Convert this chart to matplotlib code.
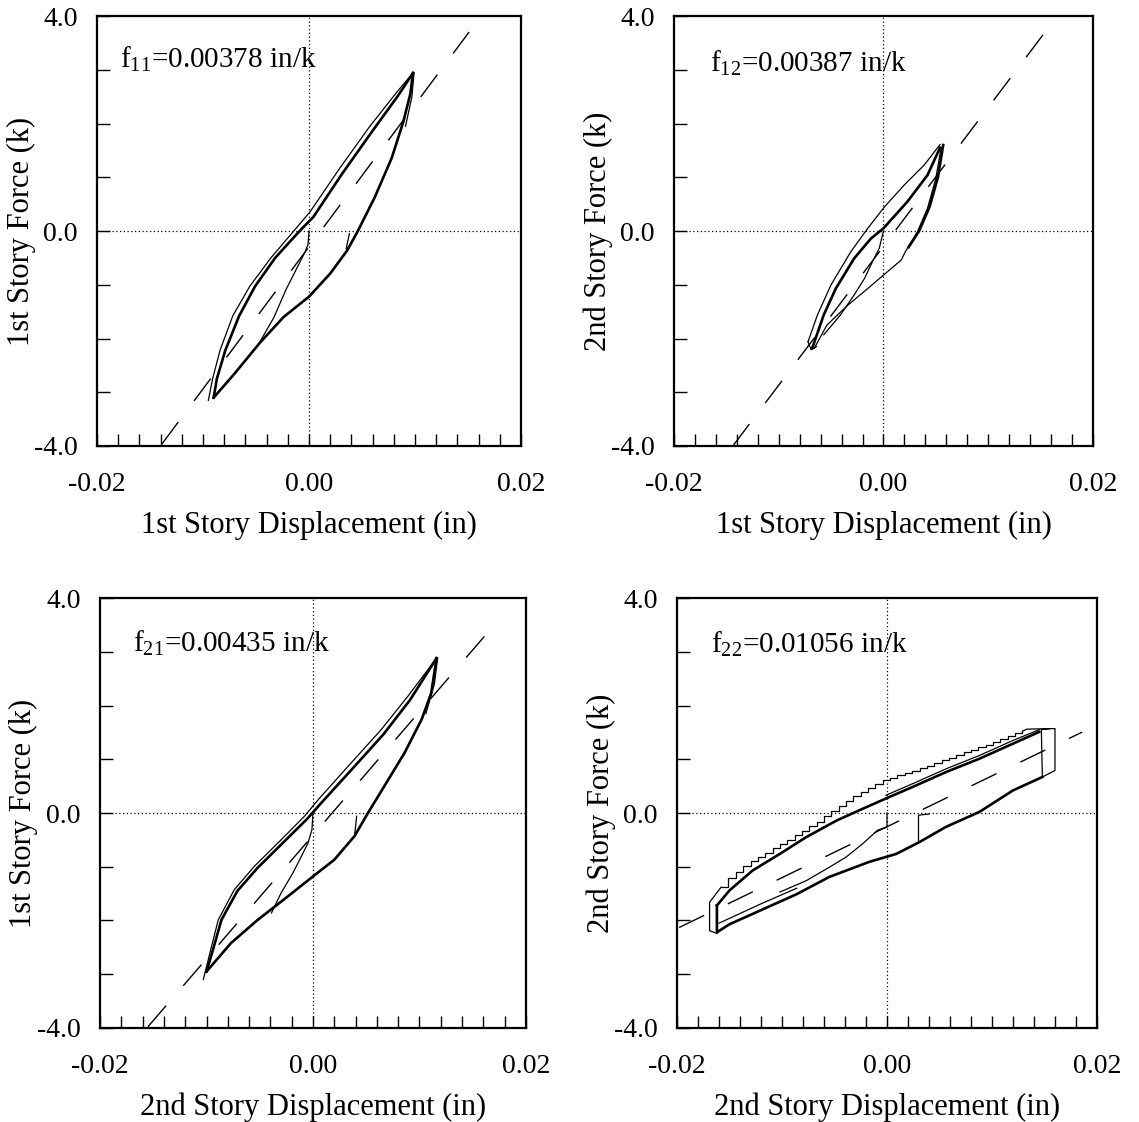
import numpy as np
import matplotlib
matplotlib.use("Agg")
from matplotlib import pyplot as plt
from matplotlib.ticker import MultipleLocator

plt.rcParams["font.family"] = ["Liberation Serif", "DejaVu Serif"]
plt.rcParams["mathtext.fontset"] = "custom"
plt.rcParams["mathtext.rm"] = "Liberation Serif"
plt.rcParams["mathtext.it"] = "Liberation Serif:italic"

# flexibility coefficients (in/k) and offset of the dashed secant line (in)
flex = [0.00378, 0.00387, 0.00435, 0.01056]
flex_names = ["11", "12", "21", "22"]
secant_x0 = [0.0011, 0.0011, 0.0018, 0.0027]
secant_xends = [[-0.0139, 0.0151], [-0.0144, 0.0154], [-0.0155, 0.0175], [-0.0198, 0.0186]]

xlabels = ["1st Story Displacement (in)", "1st Story Displacement (in)",
           "2nd Story Displacement (in)", "2nd Story Displacement (in)"]
ylabels = ["1st Story Force (k)", "2nd Story Force (k)",
           "1st Story Force (k)", "2nd Story Force (k)"]
xtick_vals = [-0.02, 0.0, 0.02]
xtick_text = ["-0.02", "0.00", "0.02"]
ytick_vals = [-4.0, 0.0, 4.0]
ytick_text = ["-4.0", "0.0", "4.0"]

# ---- panel f11 ----
p11_upA_x = [-0.0095, -0.0091, -0.0084, -0.0072, -0.0056, -0.0036, -0.0011, 0.0001, 0.0029, 0.0057, 0.0083, 0.0098]
p11_upA_y = [-3.15, -2.75, -2.22, -1.58, -1.03, -0.50, 0.08, 0.36, 1.17, 1.94, 2.59, 2.94]
p11_upB_x = [-0.0090, -0.0087, -0.0079, -0.0066, -0.0051, -0.0032, -0.0008, 0.0004, 0.0031, 0.0059, 0.0084, 0.0098]
p11_upB_y = [-3.10, -2.75, -2.22, -1.58, -1.03, -0.50, 0.02, 0.26, 1.06, 1.84, 2.52, 2.94]
p11_low_x = [0.0098, 0.00955, 0.0089, 0.0078, 0.0062, 0.0046, 0.0036, 0.0020, 0.0, -0.0024, -0.0046, -0.0071, -0.0090]
p11_low_y = [2.94, 2.55, 2.04, 1.36, 0.63, 0.0, -0.36, -0.79, -1.22, -1.60, -2.07, -2.67, -3.10]
p11_low2_x = [0.0099, 0.0097, 0.0091]
p11_low2_y = [2.94, 2.50, 1.95]
p11_init_x = [0.0, -0.0001, -0.0004, -0.0011, -0.0022, -0.0033, -0.0046]
p11_init_y = [0.0, -0.25, -0.40, -0.67, -1.10, -1.60, -2.05]
p11_hook_x = [0.0038, 0.0035]
p11_hook_y = [-0.05, -0.33]

# ---- panel f12 ----
p12_upA_x = [-0.0072, -0.0063, -0.0050, -0.0031, -0.0015, 0.0001, 0.0020, 0.0039, 0.0054]
p12_upA_y = [-2.06, -1.56, -1.00, -0.38, 0.05, 0.45, 0.86, 1.23, 1.61]
p12_upB_x = [-0.0068, -0.0057, -0.00455, -0.0028, -0.0012, 0.0, 0.0023, 0.0042, 0.0054]
p12_upB_y = [-2.18, -1.56, -1.07, -0.51, -0.14, 0.05, 0.55, 1.04, 1.55]
p12_low_x = [0.0055, 0.0050, 0.0042, 0.00325, 0.0021, 0.0017, 0.0, -0.0015, -0.0034, -0.0054, -0.0066]
p12_low_y = [1.55, 0.98, 0.42, -0.01, -0.38, -0.54, -0.82, -1.07, -1.38, -1.75, -2.18]
p12_low2_x = [0.0057, 0.0052, 0.0044, 0.0034, 0.0024]
p12_low2_y = [1.60, 1.00, 0.45, 0.0, -0.30]
p12_init_x = [0.0, -0.0004, -0.00105, -0.0018, -0.0028, -0.0041, -0.0057]
p12_init_y = [0.0, -0.32, -0.57, -0.88, -1.19, -1.56, -1.93]
p12_hook_x = [-0.0072, -0.0069, -0.0064]
p12_hook_y = [-2.06, -2.21, -2.15]

# ---- panel f21 ----
p21_upA_x = [-0.0103, -0.0098, -0.0089, -0.0074, -0.0055, -0.0030, -0.0008, 0.0005, 0.0033, 0.0064, 0.0089, 0.0116]
p21_upA_y = [-3.10, -2.70, -1.99, -1.43, -0.99, -0.50, -0.06, 0.25, 0.87, 1.55, 2.17, 2.88]
p21_upB_x = [-0.0100, -0.0094, -0.0086, -0.0071, -0.0052, -0.0028, -0.0006, 0.0007, 0.0035, 0.0066, 0.0091, 0.0116]
p21_upB_y = [-2.95, -2.55, -1.99, -1.45, -1.02, -0.55, -0.12, 0.17, 0.78, 1.46, 2.10, 2.88]
p21_low_x = [0.0116, 0.0111, 0.0102, 0.0086, 0.0067, 0.00516, 0.0039, 0.0020, 0.0, -0.00235, -0.0052, -0.0077, -0.0100]
p21_low_y = [2.88, 2.23, 1.74, 1.12, 0.50, 0.0, -0.43, -0.87, -1.18, -1.55, -1.99, -2.42, -2.95]
p21_low2_x = [0.0117, 0.0114, 0.0106]
p21_low2_y = [2.88, 2.40, 1.85]
p21_init_x = [0.0, -0.0001, -0.00047, -0.0011, -0.0019, -0.0030, -0.0039]
p21_init_y = [0.0, -0.31, -0.56, -0.81, -1.12, -1.49, -1.86]
p21_hook_x = [0.0041, 0.0039]
p21_hook_y = [-0.06, -0.43]

# ---- panel f22 ----
p22_step_x = [-0.0158, -0.0151, -0.0144, -0.0137, -0.0130, -0.0123, -0.0116, -0.0109, -0.0102, -0.0095,
              -0.0088, -0.0081, -0.0074, -0.0067, -0.0060, -0.0053, -0.0046, -0.0039, -0.0032, -0.0025,
              -0.0018, -0.0011, -0.0004, 0.0003, 0.0010, 0.0017, 0.0024, 0.0031, 0.0038, 0.0045,
              0.0052, 0.0059, 0.0066, 0.0073, 0.0080, 0.0087, 0.0094, 0.0101, 0.0108, 0.0115,
              0.0122, 0.0129]
p22_step_y = [-1.38, -1.21, -1.09, -0.99, -0.90, -0.82, -0.74, -0.66, -0.58, -0.50,
              -0.41, -0.33, -0.25, -0.16, -0.06, 0.04, 0.13, 0.23, 0.32, 0.40,
              0.47, 0.54, 0.61, 0.66, 0.70, 0.74, 0.78, 0.83, 0.88, 0.93,
              0.98, 1.03, 1.08, 1.13, 1.18, 1.22, 1.27, 1.32, 1.38, 1.43,
              1.48, 1.52]
p22_lend_x = [-0.0162, -0.0169, -0.0169, -0.0158]
p22_lend_y = [-2.24, -2.19, -1.66, -1.38]
p22_rend_x = [0.0129, 0.0133, 0.0155, 0.0160, 0.0160, 0.0148, 0.0147, 0.0155]
p22_rend_y = [1.52, 1.56, 1.57, 1.57, 0.79, 0.67, 1.55, 1.57]
p22_up_x = [-0.0162, -0.0150, -0.0128, -0.0102, -0.0077, -0.0048, -0.0023, -0.0001, 0.0025, 0.0056, 0.0088, 0.0120, 0.0145]
p22_up_y = [-1.72, -1.44, -1.07, -0.76, -0.45, -0.14, 0.08, 0.27, 0.49, 0.76, 1.01, 1.29, 1.51]
p22_up2_x = [-0.0001, 0.0025, 0.0056, 0.0088, 0.0120, 0.0145]
p22_up2_y = [0.33, 0.55, 0.82, 1.07, 1.35, 1.55]
p22_low_x = [0.0148, 0.0120, 0.0088, 0.0056, 0.0031, 0.0009, -0.0017, -0.0055, -0.0086, -0.0118, -0.0150, -0.0162, -0.0162]
p22_low_y = [0.67, 0.42, 0.02, -0.26, -0.54, -0.76, -0.91, -1.19, -1.51, -1.79, -2.07, -2.22, -1.72]
p22_low2_x = [-0.0160, -0.0120, -0.0086]
p22_low2_y = [-2.05, -1.69, -1.40]
p22_init_x = [0.0, 0.0, -0.0009, -0.0023, -0.0039, -0.0055, -0.0077, -0.0102]
p22_init_y = [0.0, -0.26, -0.32, -0.57, -0.82, -1.01, -1.26, -1.47]
p22_jump_x = [0.0030, 0.0030, 0.0040]
p22_jump_y = [-0.54, -0.04, -0.02]

panels = [
    {"thick": [(p11_low_x, p11_low_y), (p11_upB_x, p11_upB_y)],
     "thin": [(p11_upA_x, p11_upA_y), (p11_low2_x, p11_low2_y), (p11_init_x, p11_init_y), (p11_hook_x, p11_hook_y)],
     "steps": []},
    {"thick": [(p12_upB_x, p12_upB_y), (p12_low2_x, p12_low2_y)],
     "thin": [(p12_upA_x, p12_upA_y), (p12_low_x, p12_low_y), (p12_init_x, p12_init_y), (p12_hook_x, p12_hook_y)],
     "steps": []},
    {"thick": [(p21_low_x, p21_low_y), (p21_upB_x, p21_upB_y)],
     "thin": [(p21_upA_x, p21_upA_y), (p21_low2_x, p21_low2_y), (p21_init_x, p21_init_y), (p21_hook_x, p21_hook_y)],
     "steps": []},
    {"thick": [(p22_low_x, p22_low_y), (p22_up_x, p22_up_y)],
     "thin": [(p22_up2_x, p22_up2_y), (p22_low2_x, p22_low2_y), (p22_init_x, p22_init_y), (p22_jump_x, p22_jump_y),
              (p22_lend_x, p22_lend_y), (p22_rend_x, p22_rend_y)],
     "steps": [(p22_step_x, p22_step_y)]},
]

rects = [[0.0852, 0.6025, 0.3723, 0.3832],
         [0.5917, 0.6025, 0.3679, 0.3832],
         [0.0878, 0.0838, 0.3740, 0.3832],
         [0.5944, 0.0838, 0.3687, 0.3832]]
text_pos = [(0.055, 0.90), (0.086, 0.89), (0.077, 0.894), (0.082, 0.892)]

fig = plt.figure(figsize=(11.39, 11.22), dpi=100)
fs_tick = 20
fs_label = 22
fs_note = 21

for i, rect in enumerate(rects):
    ax = fig.add_axes(rect)
    ax.set_xlim(-0.02, 0.02)
    ax.set_ylim(-4.0, 4.0)

    # zero lines
    ax.axhline(0, color="black", lw=0.9, ls=(0, (1, 2)))
    ax.axvline(0, color="black", lw=0.9, ls=(0, (1, 2)))

    # secant line with slope 1/f
    xs = np.array(secant_xends[i])
    ax.plot(xs, (xs - secant_x0[i]) / flex[i], color="black", lw=1.0, ls=(0, (20, 19)))

    p = panels[i]
    for x, y in p["thin"]:
        ax.plot(x, y, color="black", lw=0.9)
    for x, y in p["thick"]:
        ax.plot(x, y, color="black", lw=1.9)
    for x, y in p["steps"]:
        ax.plot(x, y, color="black", lw=0.9, drawstyle="steps-post")

    ax.text(text_pos[i][0], text_pos[i][1],
            r"f$_{%s}$=%.5f in/k" % (flex_names[i], flex[i]),
            transform=ax.transAxes, fontsize=fs_note, va="center", ha="left")

    for s in ax.spines.values():
        s.set_linewidth(1.6)
    ax.set_xticks(xtick_vals)
    ax.set_xticklabels(xtick_text)
    ax.set_yticks(ytick_vals)
    ax.set_yticklabels(ytick_text)
    ax.xaxis.set_minor_locator(MultipleLocator(0.002))
    ax.yaxis.set_minor_locator(MultipleLocator(1.0))
    ax.tick_params(which="both", direction="in", length=9, width=1.0,
                   top=False, right=False, labelsize=fs_tick)
    ax.tick_params(axis="x", pad=19)
    ax.tick_params(axis="y", pad=14)
    ax.set_xlabel(xlabels[i], fontsize=fs_label)
    ax.set_ylabel(ylabels[i], fontsize=fs_label)
    ax.xaxis.set_label_coords(0.5, -0.15)
    ax.yaxis.set_label_coords(-0.145, 0.5)

plt.savefig("out.png", dpi=100)
